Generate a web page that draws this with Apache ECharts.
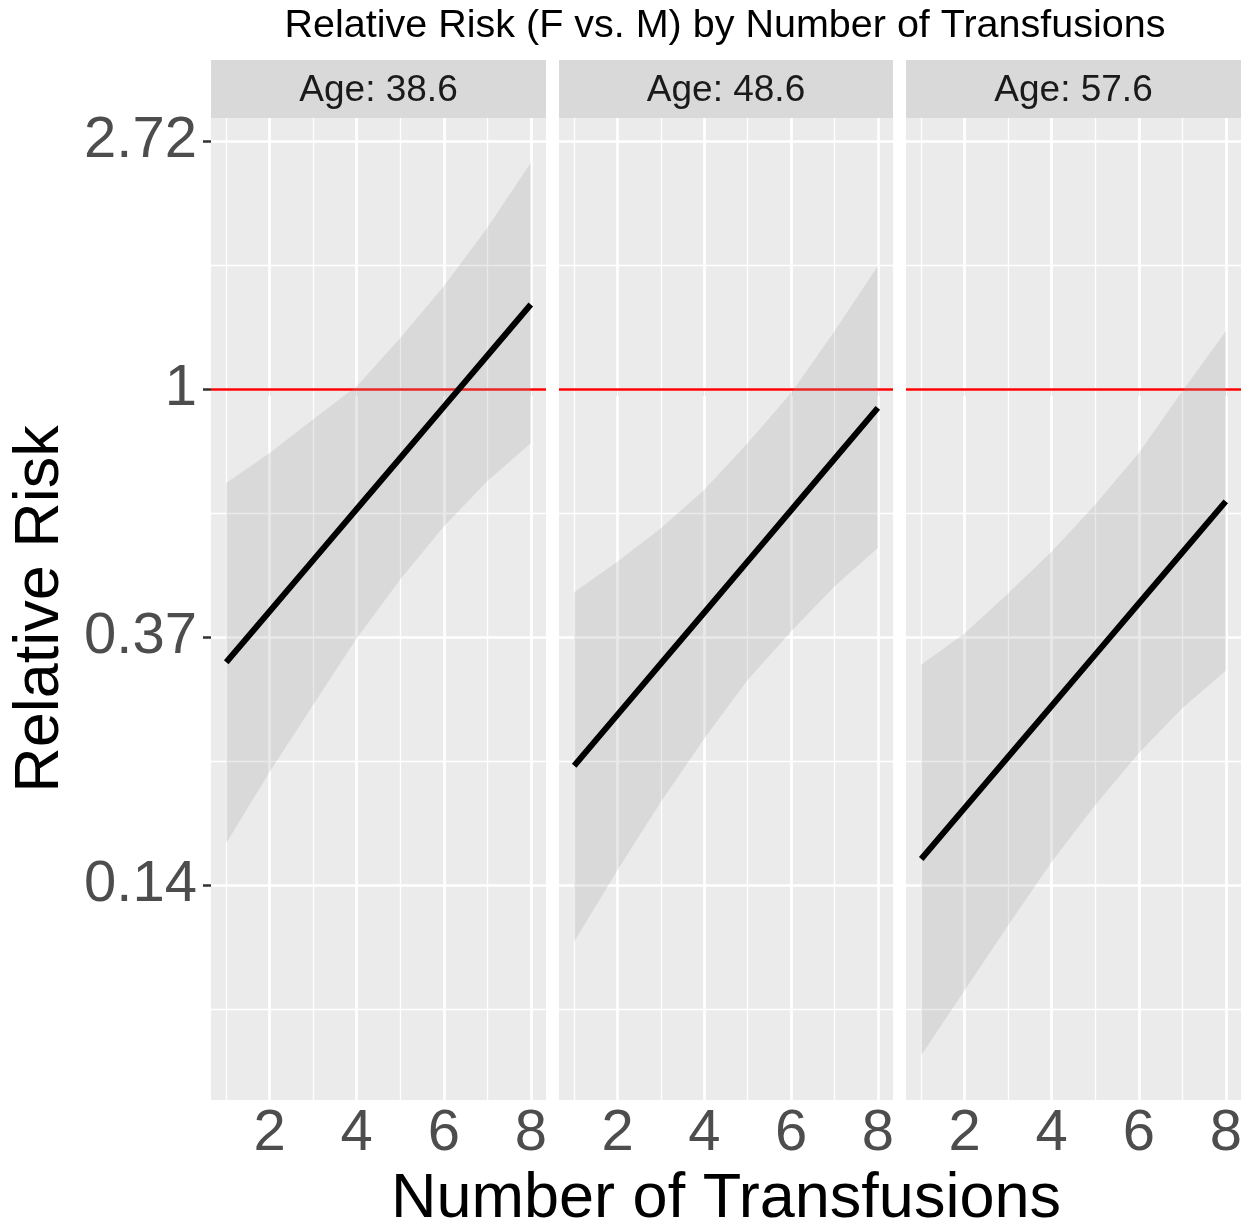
<!DOCTYPE html>
<html><head><meta charset="utf-8">
<script src="https://cdn.jsdelivr.net/npm/echarts@6/dist/echarts.min.js"></script>
<style>html,body{margin:0;padding:0;background:#fff}#c{width:1249px;height:1228px}</style>
</head><body><div id="c"></div>
<script>
// ---- data (natural-log relative risk) ----
const transfusions = [1, 2, 3, 4, 5, 6, 7, 8];
const ageLabels = ['Age: 38.6', 'Age: 48.6', 'Age: 57.6'];

const fitLog386   = [-1.102, -0.896, -0.690, -0.484, -0.278, -0.072, 0.134, 0.341];
const upperLog386 = [-0.379, -0.258, -0.122, 0.011, 0.206, 0.415, 0.650, 0.913];
const lowerLog386 = [-1.832, -1.543, -1.273, -1.005, -0.768, -0.554, -0.372, -0.219];

const fitLog486   = [-1.519, -1.313, -1.107, -0.901, -0.695, -0.489, -0.282, -0.076];
const upperLog486 = [-0.819, -0.695, -0.561, -0.406, -0.218, -0.016, 0.233, 0.496];
const lowerLog486 = [-2.229, -1.940, -1.664, -1.409, -1.173, -0.978, -0.796, -0.641];

const fitLog576   = [-1.895, -1.689, -1.483, -1.277, -1.071, -0.865, -0.659, -0.453];
const upperLog576 = [-1.112, -0.985, -0.823, -0.655, -0.466, -0.258, -0.009, 0.233];
const lowerLog576 = [-2.687, -2.424, -2.162, -1.906, -1.677, -1.469, -1.287, -1.136];

const yTickLog = [-2, -1, 0, 1];
const yTickLabels = ['0.14', '0.37', '1', '2.72'];
const yMinorLog = [-2.5, -1.5, -0.5, 0.5];
const xTicks = [2, 4, 6, 8];
const xMinor = [1, 3, 5, 7];
const referenceLog = 0; // RR = 1

const fits = [fitLog386, fitLog486, fitLog576];
const uppers = [upperLog386, upperLog486, upperLog576];
const lowers = [lowerLog386, lowerLog486, lowerLog576];

// ---- layout / style ----
const FONT = '"Liberation Sans", Arial, Helvetica, sans-serif';
const panels = [{ left: 211, width: 335 }, { left: 559, width: 334 }, { left: 906, width: 335 }];
const PANEL_TOP = 118, PANEL_BOTTOM = 1100, H = 1228;

// ggplot-like 5% expansion
const allLow = Math.min(...lowers.flat()), allHigh = Math.max(...uppers.flat());
const yPad = (allHigh - allLow) * 0.05;
const yMin = allLow - yPad, yMax = allHigh + yPad;
const xPad = (transfusions[transfusions.length - 1] - transfusions[0]) * 0.05;
const xMin = transfusions[0] - xPad, xMax = transfusions[transfusions.length - 1] + xPad;

const grids = [], xAxes = [], yAxes = [], series = [], graphics = [];

panels.forEach((p, i) => {
  grids.push({
    left: p.left, width: p.width, top: PANEL_TOP, bottom: H - PANEL_BOTTOM,
    show: true, backgroundColor: '#EBEBEB', borderWidth: 0, containLabel: false,
    outerBoundsMode: 'none'
  });
  xAxes.push({
    type: 'value', gridIndex: i, min: xMin, max: xMax,
    splitLine: { show: false }, axisLine: { show: false },
    axisTick: { show: true, customValues: xTicks, length: 7, lineStyle: { color: '#333333', width: 2.5 } },
    axisLabel: { show: true, customValues: xTicks, fontSize: 58, color: '#4D4D4D', margin: 5, fontFamily: FONT },
    name: i === 1 ? 'Number of Transfusions' : '',
    nameLocation: 'middle', nameGap: 68,
    nameTextStyle: { fontSize: 63, color: '#000000', fontFamily: FONT }
  });
  yAxes.push({
    type: 'value', gridIndex: i, min: yMin, max: yMax,
    splitLine: { show: false }, axisLine: { show: false },
    axisTick: { show: i === 0, customValues: yTickLog, length: 8, lineStyle: { color: '#333333', width: 2.5 } },
    axisLabel: {
      show: i === 0, customValues: yTickLog, fontSize: 58, color: '#4D4D4D', margin: 14, fontFamily: FONT,
      formatter: v => { const k = yTickLog.findIndex(t => Math.abs(t - v) < 1e-9); return k >= 0 ? yTickLabels[k] : ''; }
    },
    name: i === 0 ? 'Relative Risk' : '',
    nameLocation: 'middle', nameGap: 139, nameRotate: 90,
    nameTextStyle: { fontSize: 63, color: '#000000', fontFamily: FONT }
  });

  const gridLines = [];
  yMinorLog.forEach(v => gridLines.push({ yAxis: v, lineStyle: { color: '#FFFFFF', width: 1.3, type: 'solid' } }));
  xMinor.forEach(v => gridLines.push({ xAxis: v, lineStyle: { color: '#FFFFFF', width: 1.3, type: 'solid' } }));
  yTickLog.forEach(v => gridLines.push({ yAxis: v, lineStyle: { color: '#FFFFFF', width: 2.7, type: 'solid' } }));
  xTicks.forEach(v => gridLines.push({ xAxis: v, lineStyle: { color: '#FFFFFF', width: 2.7, type: 'solid' } }));
  gridLines.push({ yAxis: referenceLog, lineStyle: { color: '#FF0000', width: 2.6, type: 'solid' } });

  const up = uppers[i], lo = lowers[i];
  // confidence ribbon, drawn as one polygon through the axes' scales
  series.push({
    type: 'custom', xAxisIndex: i, yAxisIndex: i, z: 2, silent: true,
    data: transfusions.map((x, k) => [x, lo[k], up[k]]),
    encode: { x: 0, y: [1, 2] },
    renderItem: (params, api) => {
      if (params.dataIndex !== 0) return null;
      const pts = [];
      for (let k = 0; k < transfusions.length; k++) pts.push(api.coord([transfusions[k], up[k]]));
      for (let k = transfusions.length - 1; k >= 0; k--) pts.push(api.coord([transfusions[k], lo[k]]));
      return { type: 'polygon', shape: { points: pts }, style: { fill: 'rgba(153,153,153,0.22)' } };
    },
    markLine: { z: 1, silent: true, symbol: 'none', label: { show: false }, animation: false, data: gridLines }
  });
  // fitted line
  series.push({
    type: 'line', xAxisIndex: i, yAxisIndex: i, z: 3,
    data: transfusions.map((x, k) => [x, fits[i][k]]),
    symbol: 'none', lineStyle: { color: '#000000', width: 6, cap: 'butt' }, silent: true
  });

  // facet strip
  graphics.push({ type: 'rect', shape: { x: p.left, y: 60, width: p.width, height: 58 }, style: { fill: '#D9D9D9' }, silent: true });
  graphics.push({ type: 'text', style: { text: ageLabels[i], x: p.left + p.width / 2, y: 91, textAlign: 'center', textVerticalAlign: 'middle',
    font: '37px ' + FONT, fill: '#1A1A1A' }, silent: true });
});

graphics.push({ type: 'text', style: { text: 'Relative Risk (F vs. M) by Number of Transfusions', x: 725, y: 26,
  textAlign: 'center', textVerticalAlign: 'middle', font: '39.5px ' + FONT, fill: '#000000' }, silent: true });

const chart = echarts.init(document.getElementById('c'), null, { renderer: 'canvas' });
chart.setOption({
  backgroundColor: '#FFFFFF',
  animation: false,
  grid: grids, xAxis: xAxes, yAxis: yAxes, series: series,
  graphic: { elements: graphics }
});
</script></body></html>
